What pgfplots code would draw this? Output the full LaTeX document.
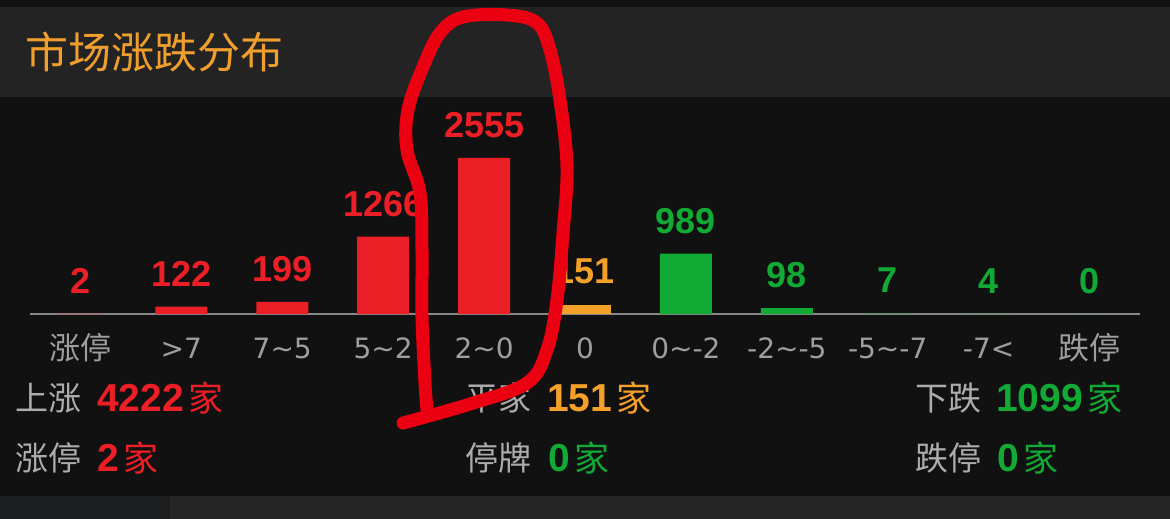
\documentclass[border=0pt]{standalone}
\usepackage{pgfplots}
\pgfplotsset{compat=1.18}
\usepackage{fontspec}
\setmainfont{DejaVu Sans}
\newfontfamily\cjk{Noto Sans CJK SC}
\newfontfamily\digits{Liberation Sans}
\definecolor{bgdark}{HTML}{111111}
\definecolor{band}{HTML}{232323}
\definecolor{bottomband}{HTML}{262626}
\definecolor{bottomleft}{HTML}{1C1E1F}
\definecolor{titleorange}{RGB}{240,158,45}
\definecolor{upred}{RGB}{236,30,38}
\definecolor{flatorange}{RGB}{245,160,40}
\definecolor{downgreen}{RGB}{16,170,52}
\definecolor{ticktext}{RGB}{158,158,158}
\definecolor{labeltext}{RGB}{172,172,172}
\definecolor{axisgray}{RGB}{135,135,135}
\definecolor{pen}{RGB}{235,0,18}

\begin{document}
\begin{tikzpicture}[x=1pt,y=1pt]
% background bands
\fill[bgdark] (0,0) rectangle (1170,-519);
\fill[band] (0,-7) rectangle (1170,-97);
\fill[bottomband] (0,-496) rectangle (1170,-519);
\fill[bottomleft] (0,-496) rectangle (170,-519);

\node[anchor=west, inner sep=0, text=titleorange,
      font=\cjk\fontsize{43}{43}\selectfont] at (25,-52) {市场涨跌分布};

\begin{axis}[
    at={(30pt,-314pt)}, anchor=south west,
    scale only axis, width=1110pt, height=200pt,
    ybar, bar width=52pt, bar shift=0pt,
    xmin=-0.5, xmax=10.5, ymin=0, ymax=3275.6,
    enlargelimits=false, clip=false,
    axis x line=bottom, axis y line=none,
    axis line style={draw=axisgray, line width=1.5pt, -},
    xtick={0,...,10},
    xticklabels={{\cjk\fontsize{31}{31}\selectfont 涨停}, >7, 7\textasciitilde5, 5\textasciitilde2, 2\textasciitilde0, 0,
                 0\textasciitilde-2, -2\textasciitilde-5, -5\textasciitilde-7, -7<, {\cjk\fontsize{31}{31}\selectfont 跌停}},
    major tick length=0pt, ytick=\empty,
    xticklabel style={anchor=center, yshift=-34pt, text=ticktext,
                      font=\fontsize{28}{28}\selectfont},
    /pgf/number format/assume math mode=true,
    /pgf/number format/1000 sep={},
    nodes near coords,
    every node near coord/.append style={anchor=center, yshift=33pt,
                      font=\digits\bfseries\fontsize{36}{36}\selectfont},
]
\addplot[fill=upred, draw=none, every node near coord/.append style={text=upred}]
    coordinates {(0,2) (1,122) (2,199) (3,1266) (4,2555)};
\addplot[fill=flatorange, draw=none, every node near coord/.append style={text=flatorange}]
    coordinates {(5,151)};
\addplot[fill=downgreen, draw=none, every node near coord/.append style={text=downgreen}]
    coordinates {(6,989) (7,98) (8,7) (9,4) (10,0)};
\end{axis}

% summary rows
\tikzset{lab/.style={anchor=west, inner sep=0, font=\cjk\fontsize{33}{33}\selectfont},
         num/.style={anchor=west, inner sep=0, font=\digits\bfseries\fontsize{39}{39}\selectfont},
         unit/.style={anchor=west, inner sep=0, font=\cjk\fontsize{35}{35}\selectfont}}
\node[lab, text=labeltext] at (15,-398) {上涨};
\node[num, text=upred] (a) at (97,-398) {4222};
\node[unit, text=upred] at ([xshift=4pt]a.east) {家};
\node[lab, text=labeltext] at (465,-398) {平家};
\node[num, text=flatorange] (b) at (547,-398) {151};
\node[unit, text=flatorange] at ([xshift=4pt]b.east) {家};
\node[lab, text=labeltext] at (915,-398) {下跌};
\node[num, text=downgreen] (c) at (996,-398) {1099};
\node[unit, text=downgreen] at ([xshift=4pt]c.east) {家};

\node[lab, text=labeltext] at (15,-458) {涨停};
\node[num, text=upred] (d) at (97,-458) {2};
\node[unit, text=upred] at ([xshift=4pt]d.east) {家};
\node[lab, text=labeltext] at (465,-458) {停牌};
\node[num, text=downgreen] (e) at (548,-458) {0};
\node[unit, text=downgreen] at ([xshift=4pt]e.east) {家};
\node[lab, text=labeltext] at (915,-458) {跌停};
\node[num, text=downgreen] (f) at (997,-458) {0};
\node[unit, text=downgreen] at ([xshift=4pt]f.east) {家};

% hand-drawn marker
\draw[pen, line width=13pt, line cap=round, line join=round]
  plot[smooth, tension=0.6] coordinates {
    (403,-423) (470,-404) (527,-383) (547,-350) (557,-300) (563,-233)
    (567,-167) (560,-100) (550,-50) (537,-23) (507,-15) (463,-17)
    (440,-33) (423,-67) (408,-110) (407,-150) (420,-193) (422,-250)
    (422,-317) (425,-383) (427,-410)};
\end{tikzpicture}
\end{document}
